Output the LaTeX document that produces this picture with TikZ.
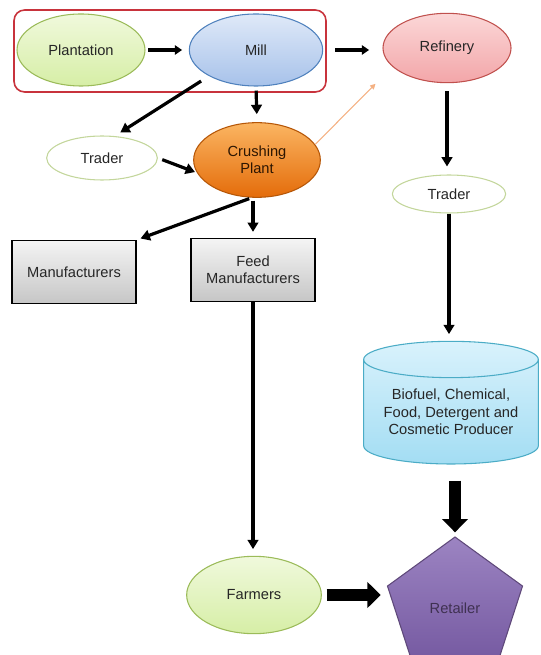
\documentclass[tikz,border=0pt]{standalone}
\usepackage{fontspec}
\setmainfont{Liberation Sans}
\usepackage{xcolor}
\usetikzlibrary{arrows.meta,shapes.geometric}

\definecolor{txtgray}{HTML}{262626}
\definecolor{framered}{HTML}{C8333C}
\definecolor{grntop}{HTML}{F0F9DC}
\definecolor{grnbot}{HTML}{D6EEA6}
\definecolor{grnline}{HTML}{9BBB59}
\definecolor{blutop}{HTML}{DFE9F8}
\definecolor{blubot}{HTML}{A7C2EA}
\definecolor{bluline}{HTML}{4F81BD}
\definecolor{redtop}{HTML}{FBD7D7}
\definecolor{redbot}{HTML}{F3A6A9}
\definecolor{redline}{HTML}{C0504D}
\definecolor{orgtop}{HTML}{FBB562}
\definecolor{orgbot}{HTML}{E46C0A}
\definecolor{orgline}{HTML}{B65708}
\definecolor{orgthin}{HTML}{F4B183}
\definecolor{trdline}{HTML}{C3D69B}
\definecolor{boxtop}{HTML}{F4F4F4}
\definecolor{boxbot}{HTML}{C6C6C6}
\definecolor{cyltop}{HTML}{D9F2FC}
\definecolor{cylbot}{HTML}{A3DDF3}
\definecolor{cylline}{HTML}{4BACC6}
\definecolor{purtop}{HTML}{9C84C2}
\definecolor{purbot}{HTML}{7458A0}
\definecolor{purline}{HTML}{5F497A}
\definecolor{purtext}{HTML}{3F3151}

\begin{document}
\begin{tikzpicture}[x=0.75pt,y=-0.75pt,
  font=\fontsize{11}{13}\selectfont,
  oval/.style={ellipse, draw, line width=0.8pt, inner sep=0pt, align=center, text=txtgray},
  trader/.style={oval, draw=trdline, fill=white, minimum width=83pt, minimum height=33pt},
  box/.style={rectangle, draw=black, line width=1.2pt, top color=boxtop, bottom color=boxbot,
    inner sep=0pt, align=center, text=txtgray, minimum width=93pt, minimum height=47pt},
  link/.style={line width=2.4pt, -{Triangle[length=7pt,width=8pt]}},
  bold link/.style={line width=3pt, -{Triangle[length=5.5pt,width=7pt]}},
  fat link/.style={line width=9.5pt, -{Triangle[length=10pt,width=19pt]}}]

\useasboundingbox (0,0) rectangle (541,655);

% supply chain nodes
\node[oval, minimum width=96pt, minimum height=54pt, top color=grntop, bottom color=grnbot, draw=grnline] (plant) at (81,50) {Plantation};
\node[oval, minimum width=100pt, minimum height=54pt, top color=blutop, bottom color=blubot, draw=bluline] (mill) at (256,50) {Mill};
\node[oval, minimum width=96pt, minimum height=52pt, top color=redtop, bottom color=redbot, draw=redline] (ref) at (447,48) {Refinery};
\node[trader] (trader1) at (102,158) {Trader};
\node[oval, minimum width=95pt, minimum height=56pt, top color=orgtop, bottom color=orgbot, draw=orgline, text=black!75!orgline] (crush) at (257,160) {Crushing\\Plant};
\node[trader, minimum width=85pt, minimum height=28.5pt] (trader2) at (449,194) {Trader};
\node[box] (mfr) at (74,272) {Manufacturers};
\node[box] (feed) at (253,270) {Feed\\Manufacturers};
\node[cylinder, shape border rotate=90, aspect=0.27, draw=cylline, line width=0.8pt,
  top color=cyltop, bottom color=cylbot, minimum width=131pt, minimum height=92pt,
  inner sep=0pt, align=center, text=txtgray] (cyl) at (451,412) {Biofuel, Chemical,\\Food, Detergent and\\Cosmetic Producer};
\node[oval, minimum width=101pt, minimum height=58pt, top color=grntop, bottom color=grnbot, draw=grnline] (farm) at (254,595) {Farmers};
\node[regular polygon, regular polygon sides=5, minimum size=106.5pt, inner sep=0pt,
  draw=purline, line width=0.8pt, top color=purtop, bottom color=purbot, text=purtext] (retail) at (455,608) {Retailer};

% grouping frame
\draw[framered, line width=1.2pt, rounded corners=8pt] (14,10) rectangle (326,92);

% flows
\draw[bold link, shorten <=2pt, shorten >=5pt] (plant.east) -- (mill.west);
\draw[bold link, shorten <=9pt, shorten >=10pt] (mill.east) -- (mill.east -| ref.west);
\draw[link, shorten <=7pt, shorten >=5pt] (mill.209) -- (trader1.60);
\draw[link, shorten <=3pt, shorten >=6pt] (mill.south) -- (crush.north);
\draw[orgthin, line width=0.8pt, -{Triangle[length=4pt,width=4pt]}, shorten >=18pt] (crush.15) -- (ref.199);
\draw[link, shorten <=3.5pt, shorten >=1.5pt] (trader1.east) -- (crush.192);
\draw[link, shorten <=2pt, shorten >=3pt] (crush.262) -- (mfr.north east);
\draw[link, shorten <=2pt, shorten >=4.5pt] (feed.north |- crush.south) -- (feed.north);
\draw[link, shorten >=5pt] (feed.south) -- (feed.south |- farm.north);
\draw[link, shorten <=6pt, shorten >=6pt] (ref.south) -- (ref.south |- trader2.north);
\draw[link, shorten >=5pt] (trader2.south) -- (trader2.south |- cyl.north);
\draw[fat link, shorten <=12pt, shorten >=3pt] (retail.north |- cyl.south) -- (retail.north);
\draw[fat link, shorten <=3.5pt, shorten >=10pt] (farm.east) -- (farm.east -| retail.west);
\end{tikzpicture}
\end{document}
